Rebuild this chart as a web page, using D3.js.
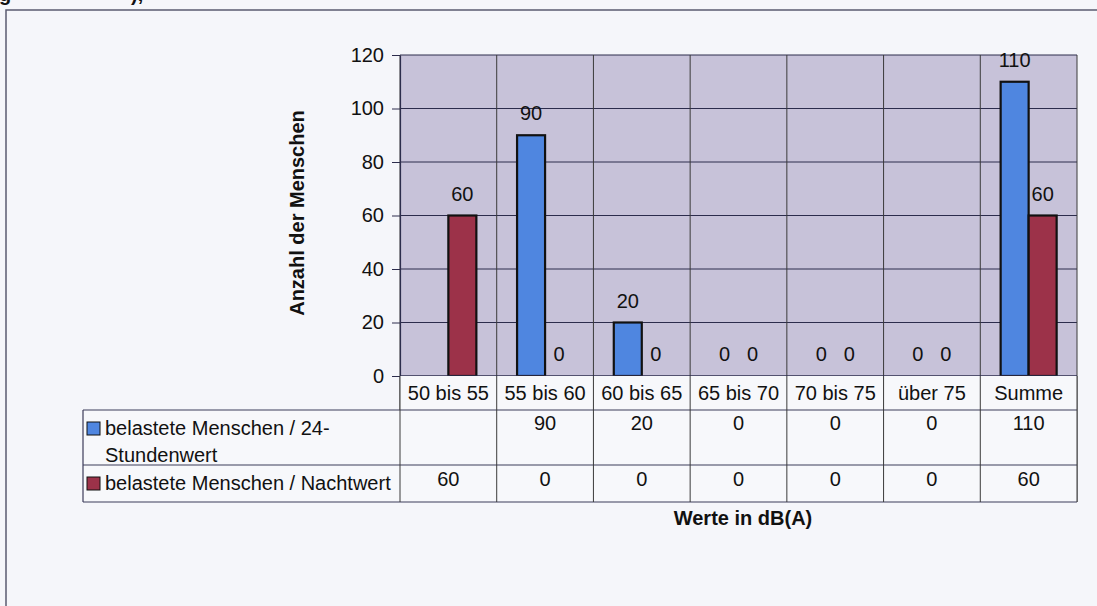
<!DOCTYPE html>
<html>
<head>
<meta charset="utf-8">
<script src="https://cdn.jsdelivr.net/npm/d3@7"></script>
<style>
  html, body { margin: 0; padding: 0; background: #f5f6fa; }
  svg { display: block; }
  text { font-family: "Liberation Sans", Arial, sans-serif; fill: #111; }
</style>
</head>
<body>
<svg id="chart" width="1097" height="606"></svg>
<script>
// Kategorien (Pegelklassen) und Werte der beiden Reihen
const categories = ["50 bis 55", "55 bis 60", "60 bis 65", "65 bis 70", "70 bis 75", "über 75", "Summe"];
const seriesNames = ["belastete Menschen / 24-Stundenwert", "belastete Menschen / Nachtwert"];
const values24h = [null, 90, 20, 0, 0, 0, 110];
const valuesNight = [60, 0, 0, 0, 0, 0, 60];
const yTicks = [0, 20, 40, 60, 80, 100, 120];
const seriesColors = ["#4f86e0", "#9c3249"];

const svg = d3.select("#chart");
const W = 1097, H = 606;
const FS = 20;

// Layout
const plot = { left: 400, right: 1077, top: 55, bottom: 376 };
const table = { legendLeft: 83, headerBottom: 410, row1Bottom: 465, row2Bottom: 502 };

// Rahmen um die Abbildung
svg.append("path")
  .attr("d", `M6,${H} V10 H${W}`)
  .attr("fill", "none")
  .attr("stroke", "#5a5b70")
  .attr("stroke-width", 1.5);

// Abgeschnittene Überschrift oberhalb des Rahmens
svg.append("text").attr("x", -1).attr("y", 1)
  .attr("font-size", FS).attr("font-weight", "bold").text("g");
svg.append("text").attr("x", 131).attr("y", 1)
  .attr("font-size", FS).attr("font-weight", "bold").text("),");

// Skalen
const x0 = d3.scaleBand().domain(categories).range([plot.left, plot.right]).padding(0);
const barW = 28;
const x1 = d3.scaleBand().domain(seriesNames)
  .range([x0.bandwidth() / 2 - barW, x0.bandwidth() / 2 + barW]).padding(0);
const y = d3.scaleLinear().domain([0, 120]).range([plot.bottom, plot.top]);

// Zeichenfläche
svg.append("rect")
  .attr("x", plot.left).attr("y", plot.top)
  .attr("width", plot.right - plot.left).attr("height", plot.bottom - plot.top)
  .attr("fill", "#c7c2d9");

// horizontale Gitterlinien
svg.append("g").selectAll("line").data(yTicks.filter(t => t > 0)).join("line")
  .attr("x1", plot.left).attr("x2", plot.right)
  .attr("y1", d => y(d)).attr("y2", d => y(d))
  .attr("stroke", "#2c2c4c").attr("stroke-width", 1);

// vertikale Trennlinien zwischen den Kategorien (bis unter die Datentabelle)
const boundaries = categories.map(c => x0(c)).concat([plot.right]);
svg.append("g").selectAll("line").data(boundaries).join("line")
  .attr("x1", d => d).attr("x2", d => d)
  .attr("y1", plot.top).attr("y2", table.row2Bottom)
  .attr("stroke", "#3a3a3a").attr("stroke-width", 1);

// Balken
const rows = categories.map((c, i) => ({
  cat: c,
  vals: [
    { s: seriesNames[0], v: values24h[i], color: seriesColors[0] },
    { s: seriesNames[1], v: valuesNight[i], color: seriesColors[1] }
  ]
}));

const groups = svg.append("g").selectAll("g").data(rows).join("g")
  .attr("transform", d => `translate(${x0(d.cat)},0)`);

groups.selectAll("rect").data(d => d.vals.filter(v => v.v != null && v.v > 0)).join("rect")
  .attr("x", d => x1(d.s))
  .attr("y", d => y(d.v))
  .attr("width", x1.bandwidth())
  .attr("height", d => y(0) - y(d.v))
  .attr("fill", d => d.color)
  .attr("stroke", "#111")
  .attr("stroke-width", 2.2);

// Datenbeschriftungen
groups.selectAll("text").data(d => d.vals.filter(v => v.v != null)).join("text")
  .attr("x", d => x1(d.s) + x1.bandwidth() / 2)
  .attr("y", d => y(d.v) - 15)
  .attr("text-anchor", "middle")
  .attr("font-size", FS)
  .text(d => d.v);

// y-Achse
const yAxis = d3.axisLeft(y).tickValues(yTicks).tickSize(8).tickSizeOuter(0).tickPadding(8);
const gy = svg.append("g").attr("transform", `translate(${plot.left},0)`).call(yAxis);
gy.select(".domain").attr("stroke", "#2c2c4c").attr("stroke-width", 1.2);
gy.selectAll(".tick line").attr("stroke", "#2c2c4c");
gy.selectAll(".tick text")
  .attr("font-size", FS)
  .attr("font-family", "\"Liberation Sans\", Arial, sans-serif")
  .attr("fill", "#111");

// x-Achsenlinie
svg.append("line")
  .attr("x1", plot.left).attr("x2", plot.right)
  .attr("y1", plot.bottom).attr("y2", plot.bottom)
  .attr("stroke", "#2c2c4c").attr("stroke-width", 1.5);

// Achsentitel
svg.append("text")
  .attr("transform", "translate(304,213) rotate(-90)")
  .attr("text-anchor", "middle")
  .attr("font-size", FS).attr("font-weight", "bold")
  .text("Anzahl der Menschen");

svg.append("text")
  .attr("x", 743).attr("y", 525)
  .attr("text-anchor", "middle")
  .attr("font-size", FS).attr("font-weight", "bold")
  .text("Werte in dB(A)");

// Datentabelle
const tbl = svg.append("g");
// Zellenhintergrund
tbl.append("rect")
  .attr("x", plot.left).attr("y", plot.bottom)
  .attr("width", plot.right - plot.left).attr("height", table.row2Bottom - plot.bottom)
  .attr("fill", "#f7f8fb");
tbl.append("rect")
  .attr("x", table.legendLeft).attr("y", table.headerBottom)
  .attr("width", plot.left - table.legendLeft).attr("height", table.row2Bottom - table.headerBottom)
  .attr("fill", "#f7f8fb");

// Linien der Tabelle
const hLines = [
  { y: table.headerBottom, x1: table.legendLeft },
  { y: table.row1Bottom, x1: table.legendLeft },
  { y: table.row2Bottom, x1: table.legendLeft }
];
tbl.selectAll("line.h").data(hLines).join("line")
  .attr("class", "h")
  .attr("x1", d => d.x1).attr("x2", plot.right)
  .attr("y1", d => d.y).attr("y2", d => d.y)
  .attr("stroke", "#3c3c5a").attr("stroke-width", 1.2);
tbl.append("line")
  .attr("x1", table.legendLeft).attr("x2", table.legendLeft)
  .attr("y1", table.headerBottom).attr("y2", table.row2Bottom)
  .attr("stroke", "#3c3c5a").attr("stroke-width", 1.2);
// Trennlinien über dem Tabellenhintergrund
tbl.selectAll("line.v").data(boundaries).join("line")
  .attr("class", "v")
  .attr("x1", d => d).attr("x2", d => d)
  .attr("y1", plot.bottom).attr("y2", table.row2Bottom)
  .attr("stroke", "#3a3a3a").attr("stroke-width", 1);

// Kategorienzeile
tbl.selectAll("text.cat").data(categories).join("text")
  .attr("class", "cat")
  .attr("x", d => x0(d) + x0.bandwidth() / 2)
  .attr("y", 400)
  .attr("text-anchor", "middle")
  .attr("font-size", FS)
  .text(d => d);

// Werte der Reihen
tbl.selectAll("text.r1").data(categories).join("text")
  .attr("class", "r1")
  .attr("x", d => x0(d) + x0.bandwidth() / 2)
  .attr("y", 430)
  .attr("text-anchor", "middle")
  .attr("font-size", FS)
  .text((d, i) => values24h[i] == null ? "" : values24h[i]);

tbl.selectAll("text.r2").data(categories).join("text")
  .attr("class", "r2")
  .attr("x", d => x0(d) + x0.bandwidth() / 2)
  .attr("y", 486)
  .attr("text-anchor", "middle")
  .attr("font-size", FS)
  .text((d, i) => valuesNight[i]);

// Legende in der Tabelle
const legendRows = [
  { color: seriesColors[0], lines: ["belastete Menschen / 24-", "Stundenwert"], y: 435 },
  { color: seriesColors[1], lines: ["belastete Menschen / Nachtwert"], y: 490 }
];
legendRows.forEach(r => {
  tbl.append("rect")
    .attr("x", 87).attr("y", r.y - 13)
    .attr("width", 13).attr("height", 13)
    .attr("fill", r.color)
    .attr("stroke", "#111").attr("stroke-width", 1);
  r.lines.forEach((ln, k) => {
    tbl.append("text")
      .attr("x", 105).attr("y", r.y + k * 27)
      .attr("font-size", FS)
      .text(ln);
  });
});
</script>
</body>
</html>
